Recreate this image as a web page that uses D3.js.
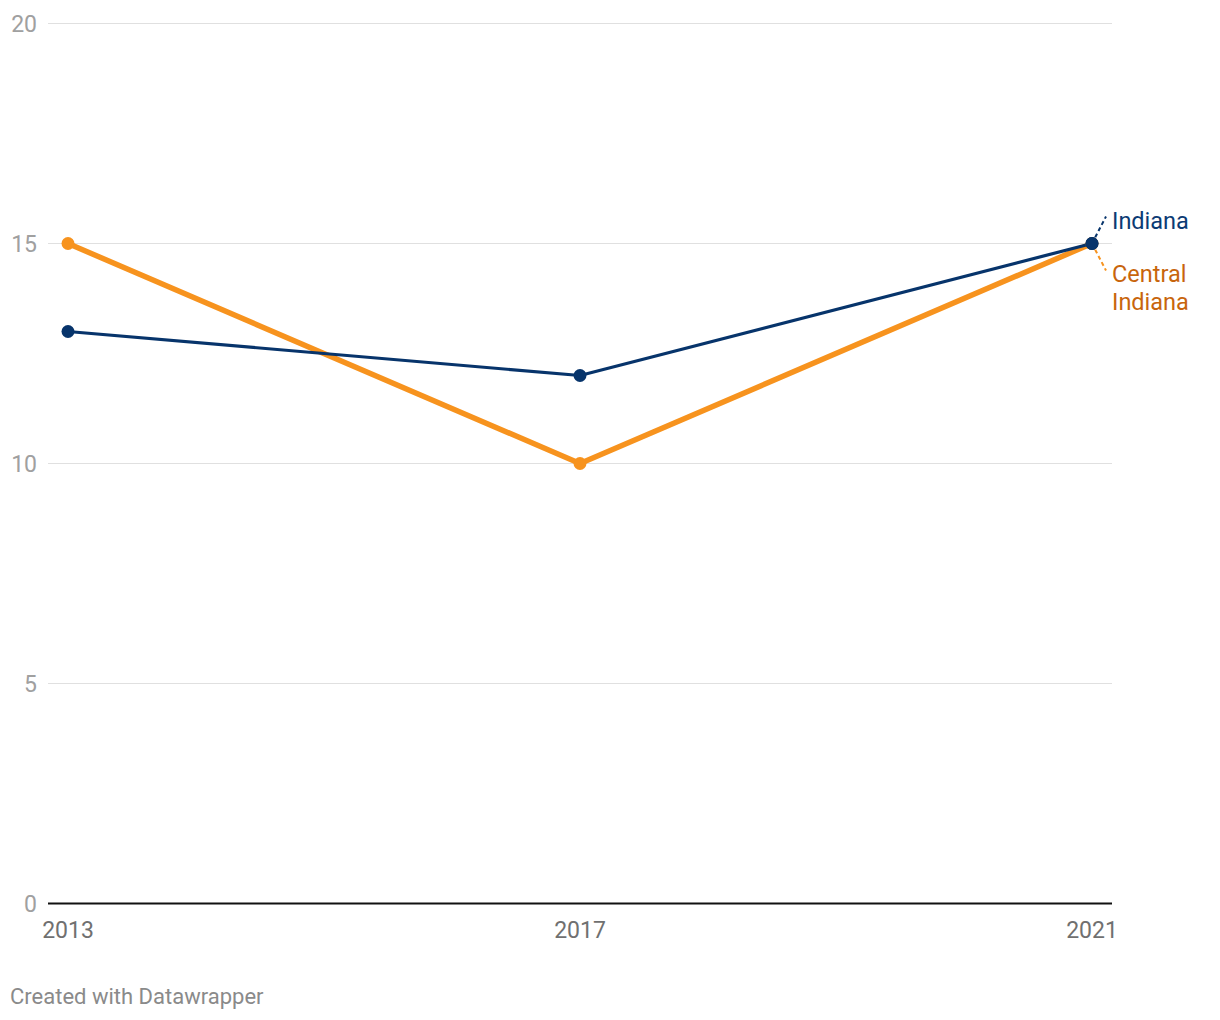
<!DOCTYPE html>
<html><head><meta charset="utf-8">
<script src="https://cdn.jsdelivr.net/npm/d3@7"></script>
<style>body{margin:0;background:#fff;font-family:Roboto,sans-serif}</style>
</head><body><svg id="c" width="1220" height="1020"></svg>
<script>
const years = [2013, 2017, 2021];
const indiana = [13, 12, 15];
const central = [15, 10, 15];
const yTicks = [0, 5, 10, 15, 20];
const seriesNames = ["Indiana", "Central Indiana"];

const svg = d3.select("#c");
const x = d3.scaleLinear().domain([2013, 2021]).range([68, 1092]);
const y = d3.scaleLinear().domain([0, 20]).range([903.5, 23.5]);

svg.append("g").selectAll("line").data(yTicks.filter(d=>d>0)).join("line")
  .attr("x1", 48).attr("x2", 1112).attr("y1", d=>y(d)).attr("y2", d=>y(d))
  .attr("stroke", "#e0e0e0").attr("stroke-width", 1);
svg.append("line").attr("x1", 48).attr("x2", 1112).attr("y1", y(0)).attr("y2", y(0))
  .attr("stroke", "#111").attr("stroke-width", 2);

svg.append("g").selectAll("text").data(yTicks).join("text")
  .attr("x", 37).attr("y", d=>y(d)+8.5).attr("text-anchor", "end")
  .attr("font-size", 23).attr("fill", "#a0a0a0").text(d=>d);

svg.append("g").selectAll("text").data(years).join("text")
  .attr("x", d=>x(d)).attr("y", 938)
  .attr("text-anchor", "middle")
  .attr("font-size", 23).attr("fill", "#707070").text(d=>d);

const line = d3.line().x((d,i)=>x(years[i])).y(d=>y(d));

const series = [
  {name: seriesNames[1], values: central, color: "#f7931e", width: 5.5},
  {name: seriesNames[0], values: indiana, color: "#07346b", width: 3.2}
];

series.forEach(s => {
  svg.append("path").datum(s.values).attr("d", line).attr("fill", "none")
    .attr("stroke", s.color).attr("stroke-width", s.width).attr("stroke-linejoin", "round");
});
series.forEach(s => {
  svg.append("g").selectAll("circle").data(s.values).join("circle")
    .attr("cx", (d,i)=>x(years[i])).attr("cy", d=>y(d)).attr("r", 6.5).attr("fill", s.color);
});

const lx = x(2021);
const ly = y(15);
svg.append("line").attr("x1", lx).attr("y1", ly).attr("x2", lx+14).attr("y2", ly-27)
  .attr("stroke", "#07346b").attr("stroke-width", 2).attr("stroke-dasharray", "4,3");
svg.append("line").attr("x1", lx).attr("y1", ly).attr("x2", lx+14).attr("y2", ly+27)
  .attr("stroke", "#f7931e").attr("stroke-width", 2).attr("stroke-dasharray", "4,3");
svg.append("circle").attr("cx", lx).attr("cy", ly).attr("r", 6.5).attr("fill", "#07346b");

svg.append("text").attr("x", 1112).attr("y", 229).attr("font-size", 23.5)
  .attr("fill", "#0b3b74").text(seriesNames[0]);
const ct = svg.append("text").attr("x", 1112).attr("y", 282).attr("font-size", 23.5).attr("fill", "#c8650c");
ct.append("tspan").attr("x", 1112).text("Central");
ct.append("tspan").attr("x", 1112).attr("dy", 28).text("Indiana");

svg.append("text").attr("x", 10).attr("y", 1004).attr("font-size", 22)
  .attr("fill", "#8a8a8a").text("Created with Datawrapper");
</script></body></html>
